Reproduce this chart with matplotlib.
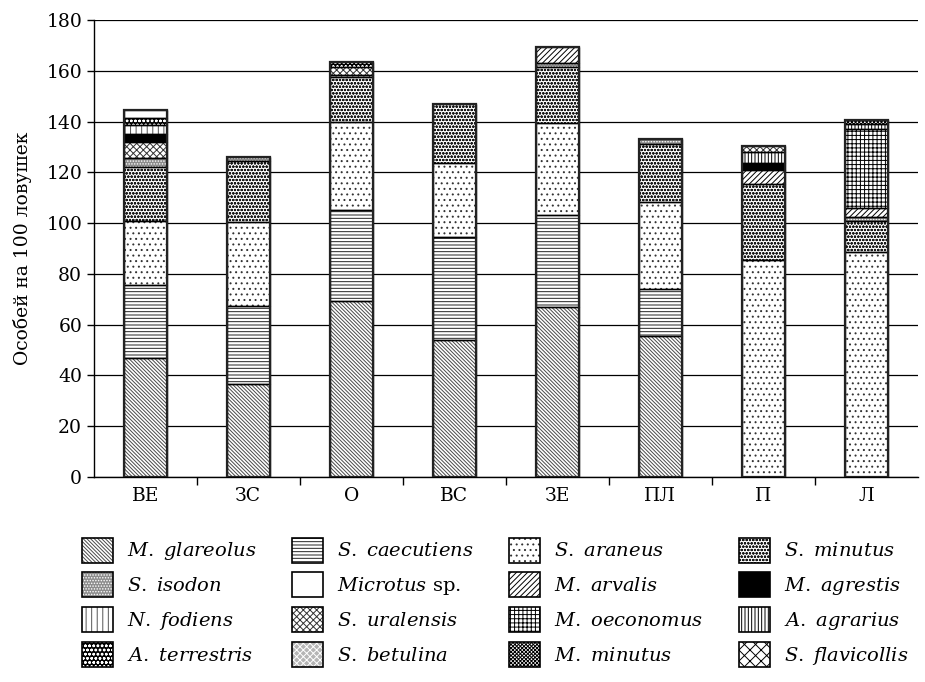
import matplotlib
matplotlib.use('Agg')
import matplotlib.pyplot as plt
from matplotlib.patches import Patch
import numpy as np

plt.rcParams['font.family'] = ['DejaVu Serif']
plt.rcParams['mathtext.fontset'] = 'dejavuserif'
plt.rcParams['hatch.linewidth'] = 0.7

# sites
categories = ['ВЕ', 'ЗС', 'О', 'ВС', 'ЗЕ', 'ПЛ', 'П', 'Л']

# individuals per 100 trap-nights, one list per species (order of categories)
glareolus   = [47, 36.5, 69.5, 54, 67, 55.5, 0, 0]
caecutiens  = [28.5, 31, 35.5, 40.5, 36, 18.5, 0, 0]
araneus     = [25.5, 33, 35, 29, 36.5, 34.5, 85.5, 88.5]
s_minutus   = [21, 24, 17.5, 23.5, 22, 22.5, 30, 12.5]
isodon      = [3.5, 1.5, 0, 0, 1.5, 2, 0, 1.5]
microtus    = [3, 0, 0, 0, 0, 0, 0, 0]
arvalis     = [0, 0, 0, 0, 6.5, 0, 5.5, 3.5]
agrestis    = [3, 0, 0, 0, 0, 0, 2.5, 0]
fodiens     = [3.5, 0, 1, 0, 0, 0, 0, 0]
uralensis   = [6.5, 0, 3, 0, 0, 0, 2.5, 0]
oeconomus   = [0, 0, 0, 0, 0, 0, 0, 31]
agrarius    = [0, 0, 0, 0, 0, 0, 4.5, 2]
terrestris  = [3, 0, 2, 0, 0, 0, 0, 0]
betulina    = [0, 0, 0, 0, 0, 0, 0, 0]
m_minutus   = [0, 0, 0, 0, 0, 0, 0, 1.5]
flavicollis = [0, 0, 0, 0, 0, 0, 0, 0]

data = {
    'glareolus': glareolus, 'caecutiens': caecutiens, 'araneus': araneus,
    's_minutus': s_minutus, 'isodon': isodon, 'microtus': microtus,
    'arvalis': arvalis, 'agrestis': agrestis, 'fodiens': fodiens,
    'uralensis': uralensis, 'oeconomus': oeconomus, 'agrarius': agrarius,
    'terrestris': terrestris, 'betulina': betulina, 'm_minutus': m_minutus,
    'flavicollis': flavicollis,
}

# legend order (read row by row)
legend_order = ['glareolus', 'caecutiens', 'araneus', 's_minutus',
                'isodon', 'microtus', 'arvalis', 'agrestis',
                'fodiens', 'uralensis', 'oeconomus', 'agrarius',
                'terrestris', 'betulina', 'm_minutus', 'flavicollis']

labels = {
    'glareolus': r'$\mathit{M.\ glareolus}$',
    'caecutiens': r'$\mathit{S.\ caecutiens}$',
    'araneus': r'$\mathit{S.\ araneus}$',
    's_minutus': r'$\mathit{S.\ minutus}$',
    'isodon': r'$\mathit{S.\ isodon}$',
    'microtus': r'$\mathit{Microtus}$ sp.',
    'arvalis': r'$\mathit{M.\ arvalis}$',
    'agrestis': r'$\mathit{M.\ agrestis}$',
    'fodiens': r'$\mathit{N.\ fodiens}$',
    'uralensis': r'$\mathit{S.\ uralensis}$',
    'oeconomus': r'$\mathit{M.\ oeconomus}$',
    'agrarius': r'$\mathit{A.\ agrarius}$',
    'terrestris': r'$\mathit{A.\ terrestris}$',
    'betulina': r'$\mathit{S.\ betulina}$',
    'm_minutus': r'$\mathit{M.\ minutus}$',
    'flavicollis': r'$\mathit{S.\ flavicollis}$',
}

# stacking order, bottom to top
stack_order = ['glareolus', 'caecutiens', 'araneus', 's_minutus', 'isodon',
               'arvalis', 'oeconomus', 'agrestis', 'agrarius', 'uralensis',
               'fodiens', 'terrestris', 'm_minutus', 'microtus', 'betulina',
               'flavicollis']
stack_override = {
    'ВЕ': ['glareolus', 'caecutiens', 'araneus', 's_minutus', 'isodon',
           'uralensis', 'agrestis', 'fodiens', 'terrestris', 'microtus'],
    'О': ['glareolus', 'caecutiens', 'araneus', 's_minutus', 'fodiens',
          'uralensis', 'terrestris'],
}

# (face, hatch, hatch colour)
styles = {
    'glareolus': ('white', '\\' * 9, '#4a4a4a'),
    'caecutiens': ('white', '-' * 5, '#222222'),
    'araneus': ('white', '...', '#333333'),
    's_minutus': ('white', 'o' * 5, '#1a1a1a'),
    'isodon': ('#8c8c8c', '......', 'white'),
    'microtus': ('white', None, 'black'),
    'arvalis': ('white', '/' * 6, 'black'),
    'agrestis': ('black', None, 'black'),
    'fodiens': ('white', '|||', '#555555'),
    'uralensis': ('white', 'x' * 5, '#333333'),
    'oeconomus': ('white', '+' * 4, 'black'),
    'agrarius': ('white', '|' * 5, 'black'),
    'terrestris': ('black', 'oooo', 'white'),
    'betulina': ('#b5b5b5', 'x' * 5, 'white'),
    'm_minutus': ('white', 'x' * 9, 'black'),
    'flavicollis': ('white', 'xxx', 'black'),
}

fig = plt.figure(figsize=(9.25, 6.82), dpi=100)
ax = fig.add_axes([0.1016, 0.3006, 0.8908, 0.6701])

x = np.arange(len(categories))
width = 0.41

for i, cat in enumerate(categories):
    bottom = 0
    for sp in stack_override.get(cat, stack_order):
        v = data[sp][i]
        if v <= 0:
            continue
        face, hatch, hc = styles[sp]
        ax.bar(x[i], v, width, bottom=bottom, color=face, hatch=hatch,
               edgecolor=hc, linewidth=0, zorder=2)
        ax.bar(x[i], v, width, bottom=bottom, fill=False,
               edgecolor='black', linewidth=1.0, zorder=3)
        bottom += v
    ax.bar(x[i], bottom, width, fill=False, edgecolor='#222222',
           linewidth=1.6, zorder=4)

ax.set_xlim(-0.5, len(categories) - 0.5)
ax.set_ylim(0, 180)
ax.set_yticks(np.arange(0, 181, 20))
ax.set_xticks(x)
ax.set_xticklabels(categories)
ax.set_xticks(np.arange(0.5, len(categories) - 0.5, 1), minor=True)
ax.tick_params(axis='x', which='major', length=0, labelsize=13.5, pad=7)
ax.tick_params(axis='x', which='minor', length=6, width=1.0, direction='out')
ax.tick_params(axis='y', length=5, width=1.0, labelsize=13.5, direction='out')
ax.yaxis.grid(True, color='black', linewidth=0.9)
ax.set_axisbelow(True)
for s in ['top', 'right']:
    ax.spines[s].set_visible(False)
for s in ['left', 'bottom']:
    ax.spines[s].set_linewidth(1.0)
ax.set_ylabel('Особей на 100 ловушек', fontsize=13.5, labelpad=10)

handles = []
for sp in legend_order:
    face, hatch, hc = styles[sp]
    h_fill = Patch(facecolor=face, hatch=hatch, edgecolor=hc, linewidth=0)
    h_edge = Patch(fill=False, edgecolor='black', linewidth=1.2)
    handles.append((h_fill, h_edge))
leg_labels = [labels[sp] for sp in legend_order]

# legend fills columns first, so reorder for row-by-row reading
ncol = 4
nrow = 4
idx = [r * ncol + c for c in range(ncol) for r in range(nrow)]
fig.legend([handles[k] for k in idx], [leg_labels[k] for k in idx],
           ncol=ncol, loc='upper left', bbox_to_anchor=(0.078, 0.226),
           frameon=False, fontsize=14, handlelength=1.6, handleheight=1.6,
           handletextpad=0.7, columnspacing=1.85, labelspacing=0.5,
           borderpad=0)

fig.savefig('out.png', dpi=100)
